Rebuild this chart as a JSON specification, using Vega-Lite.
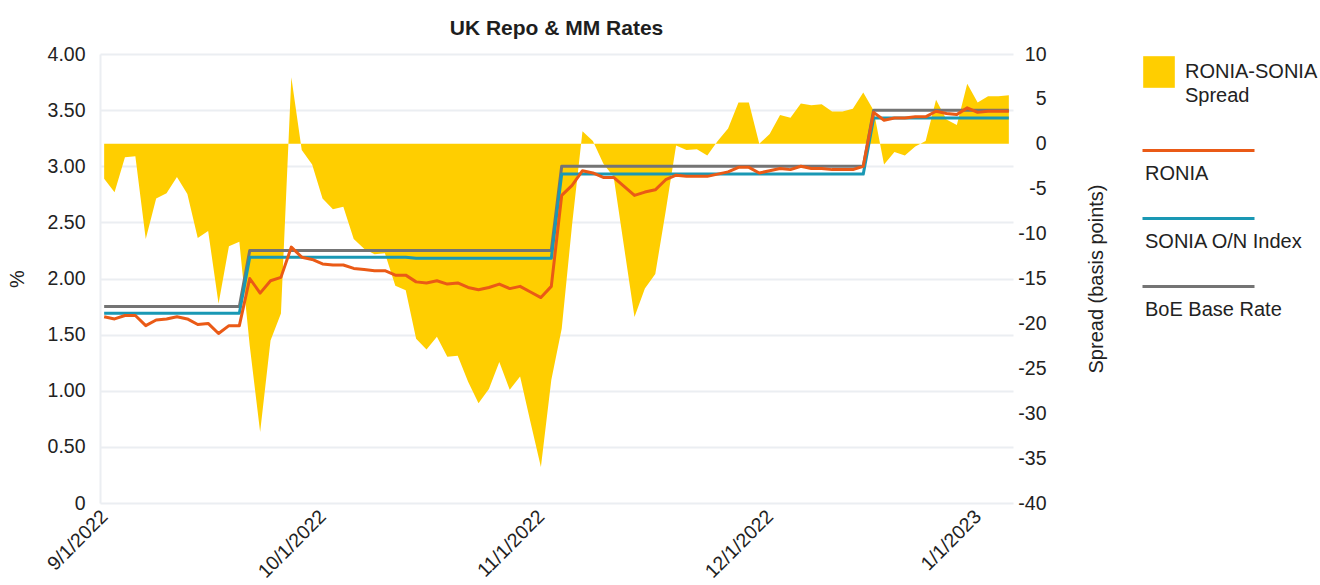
{
  "$schema": "https://vega.github.io/schema/vega-lite/v6.json",
  "width": 913,
  "height": 449,
  "autosize": {"type": "none"},
  "padding": {"left": 100, "top": 54, "right": 307, "bottom": 82},
  "title": {"text": "UK Repo & MM Rates", "fontSize": 21, "fontWeight": "bold", "font": "Liberation Sans", "color": "#1e1e1e", "offset": 5, "anchor": "middle"},
  "config": {
    "view": {"stroke": null},
    "font": "Liberation Sans",
    "style": {"guide-label": {"lineHeight": 24}},
    "axis": {"labelFont": "Liberation Sans", "labelFontSize": 19.5, "labelColor": "#222222", "titleFont": "Liberation Sans", "titleFontSize": 20, "titleFontWeight": "normal", "titleColor": "#222222", "ticks": false},
    "legend": {"labelFont": "Liberation Sans", "labelFontSize": 20, "labelColor": "#222222", "labelLimit": 300}
  },
  "datasets": {
    "rates": [
      {"date": "2022-09-01", "spread": -3.9, "RONIA": 1.66, "SONIA O/N Index": 1.69, "BoE Base Rate": 1.75},
      {"date": "2022-09-02", "spread": -5.4, "RONIA": 1.64, "SONIA O/N Index": 1.69, "BoE Base Rate": 1.75},
      {"date": "2022-09-05", "spread": -1.5, "RONIA": 1.67, "SONIA O/N Index": 1.69, "BoE Base Rate": 1.75},
      {"date": "2022-09-06", "spread": -1.4, "RONIA": 1.67, "SONIA O/N Index": 1.69, "BoE Base Rate": 1.75},
      {"date": "2022-09-07", "spread": -10.6, "RONIA": 1.58, "SONIA O/N Index": 1.69, "BoE Base Rate": 1.75},
      {"date": "2022-09-08", "spread": -6.1, "RONIA": 1.63, "SONIA O/N Index": 1.69, "BoE Base Rate": 1.75},
      {"date": "2022-09-09", "spread": -5.5, "RONIA": 1.64, "SONIA O/N Index": 1.69, "BoE Base Rate": 1.75},
      {"date": "2022-09-12", "spread": -3.7, "RONIA": 1.66, "SONIA O/N Index": 1.69, "BoE Base Rate": 1.75},
      {"date": "2022-09-13", "spread": -5.6, "RONIA": 1.64, "SONIA O/N Index": 1.69, "BoE Base Rate": 1.75},
      {"date": "2022-09-14", "spread": -10.5, "RONIA": 1.59, "SONIA O/N Index": 1.69, "BoE Base Rate": 1.75},
      {"date": "2022-09-15", "spread": -9.7, "RONIA": 1.60, "SONIA O/N Index": 1.69, "BoE Base Rate": 1.75},
      {"date": "2022-09-16", "spread": -17.8, "RONIA": 1.51, "SONIA O/N Index": 1.69, "BoE Base Rate": 1.75},
      {"date": "2022-09-20", "spread": -11.4, "RONIA": 1.58, "SONIA O/N Index": 1.69, "BoE Base Rate": 1.75},
      {"date": "2022-09-21", "spread": -10.9, "RONIA": 1.58, "SONIA O/N Index": 1.69, "BoE Base Rate": 1.75},
      {"date": "2022-09-22", "spread": -22.5, "RONIA": 2.00, "SONIA O/N Index": 2.19, "BoE Base Rate": 2.25},
      {"date": "2022-09-23", "spread": -32.1, "RONIA": 1.87, "SONIA O/N Index": 2.19, "BoE Base Rate": 2.25},
      {"date": "2022-09-26", "spread": -21.9, "RONIA": 1.98, "SONIA O/N Index": 2.19, "BoE Base Rate": 2.25},
      {"date": "2022-09-27", "spread": -18.9, "RONIA": 2.01, "SONIA O/N Index": 2.19, "BoE Base Rate": 2.25},
      {"date": "2022-09-28", "spread": 7.4, "RONIA": 2.28, "SONIA O/N Index": 2.19, "BoE Base Rate": 2.25},
      {"date": "2022-09-29", "spread": -0.7, "RONIA": 2.19, "SONIA O/N Index": 2.19, "BoE Base Rate": 2.25},
      {"date": "2022-09-30", "spread": -2.3, "RONIA": 2.17, "SONIA O/N Index": 2.19, "BoE Base Rate": 2.25},
      {"date": "2022-10-03", "spread": -6.1, "RONIA": 2.13, "SONIA O/N Index": 2.19, "BoE Base Rate": 2.25},
      {"date": "2022-10-04", "spread": -7.3, "RONIA": 2.12, "SONIA O/N Index": 2.19, "BoE Base Rate": 2.25},
      {"date": "2022-10-05", "spread": -7.0, "RONIA": 2.12, "SONIA O/N Index": 2.19, "BoE Base Rate": 2.25},
      {"date": "2022-10-06", "spread": -10.6, "RONIA": 2.09, "SONIA O/N Index": 2.19, "BoE Base Rate": 2.25},
      {"date": "2022-10-07", "spread": -11.7, "RONIA": 2.08, "SONIA O/N Index": 2.19, "BoE Base Rate": 2.25},
      {"date": "2022-10-10", "spread": -12.3, "RONIA": 2.07, "SONIA O/N Index": 2.19, "BoE Base Rate": 2.25},
      {"date": "2022-10-11", "spread": -12.2, "RONIA": 2.07, "SONIA O/N Index": 2.19, "BoE Base Rate": 2.25},
      {"date": "2022-10-12", "spread": -15.8, "RONIA": 2.03, "SONIA O/N Index": 2.19, "BoE Base Rate": 2.25},
      {"date": "2022-10-13", "spread": -16.3, "RONIA": 2.03, "SONIA O/N Index": 2.19, "BoE Base Rate": 2.25},
      {"date": "2022-10-14", "spread": -21.7, "RONIA": 1.97, "SONIA O/N Index": 2.18, "BoE Base Rate": 2.25},
      {"date": "2022-10-17", "spread": -22.9, "RONIA": 1.96, "SONIA O/N Index": 2.18, "BoE Base Rate": 2.25},
      {"date": "2022-10-18", "spread": -21.5, "RONIA": 1.98, "SONIA O/N Index": 2.18, "BoE Base Rate": 2.25},
      {"date": "2022-10-19", "spread": -23.7, "RONIA": 1.95, "SONIA O/N Index": 2.18, "BoE Base Rate": 2.25},
      {"date": "2022-10-20", "spread": -23.6, "RONIA": 1.96, "SONIA O/N Index": 2.18, "BoE Base Rate": 2.25},
      {"date": "2022-10-21", "spread": -26.5, "RONIA": 1.92, "SONIA O/N Index": 2.18, "BoE Base Rate": 2.25},
      {"date": "2022-10-24", "spread": -28.9, "RONIA": 1.90, "SONIA O/N Index": 2.18, "BoE Base Rate": 2.25},
      {"date": "2022-10-25", "spread": -27.3, "RONIA": 1.92, "SONIA O/N Index": 2.18, "BoE Base Rate": 2.25},
      {"date": "2022-10-26", "spread": -24.3, "RONIA": 1.95, "SONIA O/N Index": 2.18, "BoE Base Rate": 2.25},
      {"date": "2022-10-27", "spread": -27.4, "RONIA": 1.91, "SONIA O/N Index": 2.18, "BoE Base Rate": 2.25},
      {"date": "2022-10-28", "spread": -25.9, "RONIA": 1.93, "SONIA O/N Index": 2.18, "BoE Base Rate": 2.25},
      {"date": "2022-10-31", "spread": -31.0, "RONIA": 1.88, "SONIA O/N Index": 2.18, "BoE Base Rate": 2.25},
      {"date": "2022-11-01", "spread": -36.0, "RONIA": 1.83, "SONIA O/N Index": 2.18, "BoE Base Rate": 2.25},
      {"date": "2022-11-02", "spread": -26.3, "RONIA": 1.93, "SONIA O/N Index": 2.18, "BoE Base Rate": 2.25},
      {"date": "2022-11-03", "spread": -20.6, "RONIA": 2.74, "SONIA O/N Index": 2.93, "BoE Base Rate": 3.00},
      {"date": "2022-11-04", "spread": -9.0, "RONIA": 2.83, "SONIA O/N Index": 2.93, "BoE Base Rate": 3.00},
      {"date": "2022-11-07", "spread": 1.4, "RONIA": 2.96, "SONIA O/N Index": 2.93, "BoE Base Rate": 3.00},
      {"date": "2022-11-08", "spread": 0.3, "RONIA": 2.94, "SONIA O/N Index": 2.93, "BoE Base Rate": 3.00},
      {"date": "2022-11-09", "spread": -2.2, "RONIA": 2.90, "SONIA O/N Index": 2.93, "BoE Base Rate": 3.00},
      {"date": "2022-11-10", "spread": -3.7, "RONIA": 2.90, "SONIA O/N Index": 2.93, "BoE Base Rate": 3.00},
      {"date": "2022-11-11", "spread": -11.5, "RONIA": 2.82, "SONIA O/N Index": 2.93, "BoE Base Rate": 3.00},
      {"date": "2022-11-14", "spread": -19.3, "RONIA": 2.74, "SONIA O/N Index": 2.93, "BoE Base Rate": 3.00},
      {"date": "2022-11-15", "spread": -16.1, "RONIA": 2.77, "SONIA O/N Index": 2.93, "BoE Base Rate": 3.00},
      {"date": "2022-11-16", "spread": -14.5, "RONIA": 2.79, "SONIA O/N Index": 2.93, "BoE Base Rate": 3.00},
      {"date": "2022-11-17", "spread": -7.5, "RONIA": 2.88, "SONIA O/N Index": 2.93, "BoE Base Rate": 3.00},
      {"date": "2022-11-18", "spread": -0.2, "RONIA": 2.92, "SONIA O/N Index": 2.93, "BoE Base Rate": 3.00},
      {"date": "2022-11-21", "spread": -0.7, "RONIA": 2.91, "SONIA O/N Index": 2.93, "BoE Base Rate": 3.00},
      {"date": "2022-11-22", "spread": -0.6, "RONIA": 2.91, "SONIA O/N Index": 2.93, "BoE Base Rate": 3.00},
      {"date": "2022-11-23", "spread": -1.3, "RONIA": 2.91, "SONIA O/N Index": 2.93, "BoE Base Rate": 3.00},
      {"date": "2022-11-24", "spread": 0.3, "RONIA": 2.93, "SONIA O/N Index": 2.93, "BoE Base Rate": 3.00},
      {"date": "2022-11-25", "spread": 1.7, "RONIA": 2.95, "SONIA O/N Index": 2.93, "BoE Base Rate": 3.00},
      {"date": "2022-11-28", "spread": 4.6, "RONIA": 2.99, "SONIA O/N Index": 2.93, "BoE Base Rate": 3.00},
      {"date": "2022-11-29", "spread": 4.6, "RONIA": 2.99, "SONIA O/N Index": 2.93, "BoE Base Rate": 3.00},
      {"date": "2022-11-30", "spread": 0.0, "RONIA": 2.94, "SONIA O/N Index": 2.93, "BoE Base Rate": 3.00},
      {"date": "2022-12-01", "spread": 1.1, "RONIA": 2.96, "SONIA O/N Index": 2.93, "BoE Base Rate": 3.00},
      {"date": "2022-12-02", "spread": 3.2, "RONIA": 2.98, "SONIA O/N Index": 2.93, "BoE Base Rate": 3.00},
      {"date": "2022-12-05", "spread": 2.9, "RONIA": 2.97, "SONIA O/N Index": 2.93, "BoE Base Rate": 3.00},
      {"date": "2022-12-06", "spread": 4.5, "RONIA": 3.00, "SONIA O/N Index": 2.93, "BoE Base Rate": 3.00},
      {"date": "2022-12-07", "spread": 4.3, "RONIA": 2.98, "SONIA O/N Index": 2.93, "BoE Base Rate": 3.00},
      {"date": "2022-12-08", "spread": 4.4, "RONIA": 2.98, "SONIA O/N Index": 2.93, "BoE Base Rate": 3.00},
      {"date": "2022-12-09", "spread": 3.6, "RONIA": 2.97, "SONIA O/N Index": 2.93, "BoE Base Rate": 3.00},
      {"date": "2022-12-12", "spread": 3.6, "RONIA": 2.97, "SONIA O/N Index": 2.93, "BoE Base Rate": 3.00},
      {"date": "2022-12-13", "spread": 3.9, "RONIA": 2.97, "SONIA O/N Index": 2.93, "BoE Base Rate": 3.00},
      {"date": "2022-12-14", "spread": 5.7, "RONIA": 3.00, "SONIA O/N Index": 2.93, "BoE Base Rate": 3.00},
      {"date": "2022-12-15", "spread": 3.7, "RONIA": 3.48, "SONIA O/N Index": 3.43, "BoE Base Rate": 3.50},
      {"date": "2022-12-16", "spread": -2.3, "RONIA": 3.41, "SONIA O/N Index": 3.43, "BoE Base Rate": 3.50},
      {"date": "2022-12-19", "spread": -0.9, "RONIA": 3.43, "SONIA O/N Index": 3.43, "BoE Base Rate": 3.50},
      {"date": "2022-12-20", "spread": -1.3, "RONIA": 3.43, "SONIA O/N Index": 3.43, "BoE Base Rate": 3.50},
      {"date": "2022-12-21", "spread": -0.3, "RONIA": 3.44, "SONIA O/N Index": 3.43, "BoE Base Rate": 3.50},
      {"date": "2022-12-22", "spread": 0.3, "RONIA": 3.44, "SONIA O/N Index": 3.43, "BoE Base Rate": 3.50},
      {"date": "2022-12-23", "spread": 4.9, "RONIA": 3.49, "SONIA O/N Index": 3.43, "BoE Base Rate": 3.50},
      {"date": "2022-12-28", "spread": 2.7, "RONIA": 3.47, "SONIA O/N Index": 3.43, "BoE Base Rate": 3.50},
      {"date": "2022-12-29", "spread": 2.1, "RONIA": 3.46, "SONIA O/N Index": 3.43, "BoE Base Rate": 3.50},
      {"date": "2022-12-30", "spread": 6.7, "RONIA": 3.52, "SONIA O/N Index": 3.43, "BoE Base Rate": 3.50},
      {"date": "2023-01-03", "spread": 4.6, "RONIA": 3.48, "SONIA O/N Index": 3.43, "BoE Base Rate": 3.50},
      {"date": "2023-01-04", "spread": 5.3, "RONIA": 3.49, "SONIA O/N Index": 3.43, "BoE Base Rate": 3.50},
      {"date": "2023-01-05", "spread": 5.3, "RONIA": 3.49, "SONIA O/N Index": 3.43, "BoE Base Rate": 3.50},
      {"date": "2023-01-06", "spread": 5.4, "RONIA": 3.49, "SONIA O/N Index": 3.43, "BoE Base Rate": 3.50}
    ]
  },
  "data": {"name": "rates"},
  "layer": [
    {
      "mark": {"type": "area", "opacity": 1},
      "encoding": {
        "x": {
          "field": "date", "type": "ordinal",
          "scale": {"type": "point", "padding": 0.4},
          "axis": {
            "title": null, "domain": false, "grid": false, "ticks": false,
            "values": ["2022-09-01", "2022-10-03", "2022-11-01", "2022-12-01", "2023-01-03"],
            "labelExpr": "toNumber(slice(datum.value, 5, 7)) + '/1/' + slice(datum.value, 0, 4)",
            "labelAngle": -45, "labelAlign": "right", "labelBaseline": "middle", "labelPadding": 10
          }
        },
        "y": {
          "field": "spread", "type": "quantitative",
          "scale": {"domain": [-40, 10], "nice": false},
          "axis": {
            "orient": "right", "title": "Spread (basis points)", "grid": false, "domain": false,
            "values": [-40, -35, -30, -25, -20, -15, -10, -5, 0, 5, 10],
            "labelExpr": "'' + datum.value",
            "labelAlign": "right", "labelPadding": 33,
            "titleAngle": 270, "titleBaseline": "top", "titlePadding": 40
          }
        },
        "fill": {
          "datum": "RONIA-SONIA Spread",
          "scale": {"range": ["#FFCE00"]},
          "legend": {
            "title": null, "orient": "right", "offset": 35, "padding": 2,
            "symbolType": "square", "symbolSize": 1000, "symbolStrokeWidth": 0,
            "labelExpr": "['RONIA-SONIA', 'Spread']", "labelOffset": 10
          }
        }
      }
    },
    {
      "transform": [{"fold": ["BoE Base Rate", "SONIA O/N Index", "RONIA"], "as": ["series", "rate"]}],
      "mark": {"type": "line", "strokeWidth": 3, "strokeJoin": "round"},
      "encoding": {
        "x": {"field": "date", "type": "ordinal"},
        "y": {
          "field": "rate", "type": "quantitative",
          "scale": {"domain": [0, 4], "nice": false},
          "axis": {
            "orient": "left", "title": "%", "grid": true, "gridColor": "#ebeef2", "gridWidth": 2,
            "domain": true, "domainColor": "#ebeef2", "domainWidth": 2,
            "values": [0, 0.5, 1, 1.5, 2, 2.5, 3, 3.5, 4],
            "labelExpr": "datum.value == 0 ? '0' : format(datum.value, '.2f')",
            "labelPadding": 15, "titlePadding": 20
          }
        },
        "stroke": {
          "field": "series", "type": "nominal",
          "scale": {"domain": ["RONIA", "SONIA O/N Index", "BoE Base Rate"], "range": ["#EA5A16", "#1A98B4", "#747474"]},
          "legend": {
            "title": null, "orient": "right", "offset": 35,
            "symbolType": "M-1,-0.41H1", "symbolSize": 12544, "symbolStrokeWidth": 3,
            "labelOffset": -111, "rowPadding": 0
          }
        }
      }
    }
  ],
  "resolve": {"scale": {"y": "independent"}}
}
